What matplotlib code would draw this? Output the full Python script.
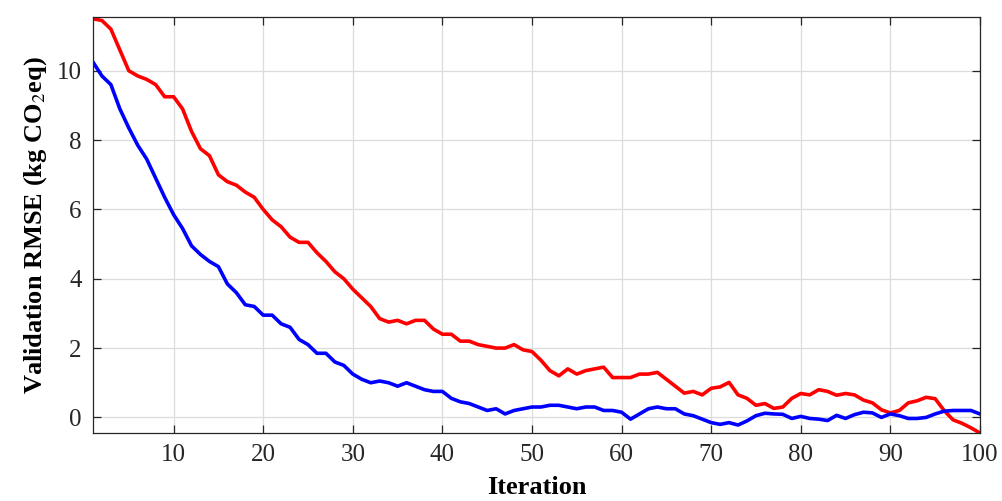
import numpy as np
from matplotlib import pyplot as plt

plt.rcParams['font.family'] = ['Liberation Serif', 'DejaVu Serif']
plt.rcParams['mathtext.fontset'] = 'stix'

iteration = np.arange(1, 101)

rmse_red = [11.5, 11.45, 11.2, 10.6, 10.0, 9.85, 9.75, 9.6, 9.25, 9.25,
            8.9, 8.25, 7.75, 7.55, 7.0, 6.8, 6.7, 6.5, 6.35, 6.0,
            5.7, 5.5, 5.2, 5.05, 5.05, 4.75, 4.5, 4.2, 4.0, 3.7,
            3.45, 3.2, 2.85, 2.75, 2.8, 2.7, 2.8, 2.8, 2.55, 2.4,
            2.4, 2.2, 2.2, 2.1, 2.05, 2.0, 2.0, 2.1, 1.95, 1.9,
            1.65, 1.35, 1.2, 1.4, 1.25, 1.35, 1.4, 1.45, 1.15, 1.15,
            1.15, 1.25, 1.25, 1.3, 1.1, 0.9, 0.7, 0.75, 0.65, 0.84,
            0.88, 1.01, 0.65, 0.55, 0.35, 0.4, 0.26, 0.3, 0.55, 0.69,
            0.65, 0.8, 0.75, 0.64, 0.69, 0.65, 0.5, 0.42, 0.22, 0.13,
            0.2, 0.42, 0.48, 0.58, 0.54, 0.2, -0.07, -0.17, -0.3, -0.45]

rmse_blue = [10.25, 9.85, 9.6, 8.9, 8.35, 7.85, 7.45, 6.9, 6.35, 5.85,
             5.45, 4.95, 4.7, 4.5, 4.35, 3.85, 3.6, 3.25, 3.2, 2.95,
             2.95, 2.7, 2.6, 2.25, 2.1, 1.85, 1.85, 1.6, 1.5, 1.25,
             1.1, 1.0, 1.05, 1.0, 0.9, 1.0, 0.9, 0.8, 0.75, 0.75,
             0.55, 0.45, 0.4, 0.3, 0.2, 0.25, 0.1, 0.2, 0.25, 0.3,
             0.3, 0.35, 0.35, 0.3, 0.25, 0.3, 0.3, 0.2, 0.2, 0.15,
             -0.05, 0.1, 0.25, 0.3, 0.25, 0.25, 0.1, 0.05, -0.05, -0.15,
             -0.2, -0.15, -0.22, -0.1, 0.05, 0.12, 0.1, 0.09, -0.03, 0.03,
             -0.03, -0.05, -0.09, 0.06, -0.03, 0.08, 0.15, 0.13, 0.0, 0.1,
             0.05, -0.03, -0.03, 0.0, 0.1, 0.18, 0.2, 0.2, 0.2, 0.1]

fig = plt.figure(figsize=(10.03, 5.01), dpi=100)
ax = fig.add_axes([0.0927, 0.1357, 0.8843, 0.8303])

ax.plot(iteration, rmse_red, color='#ff0000', lw=2.6)
ax.plot(iteration, rmse_blue, color='#0000ff', lw=2.6)

ax.set_xlim(1, 100)
ax.set_ylim(-0.45, 11.55)
ax.set_xticks(np.arange(10, 101, 10))
ax.set_yticks(np.arange(0, 11, 2))
ax.grid(True, color='#dcdcdc', lw=0.9)
ax.set_axisbelow(True)

ax.tick_params(direction='in', length=6, width=0.9, top=True, right=True,
               labelsize=18, colors='#262626', pad=8)
for s in ax.spines.values():
  s.set_color('#262626')
  s.set_linewidth(0.9)

ax.set_xlabel('Iteration', fontsize=19, fontweight='bold', labelpad=7)
ax.set_ylabel(r'Validation RMSE (kg CO$_{2}$eq)', fontsize=19,
              fontweight='bold', labelpad=6)

fig.savefig('out.png', dpi=100)
